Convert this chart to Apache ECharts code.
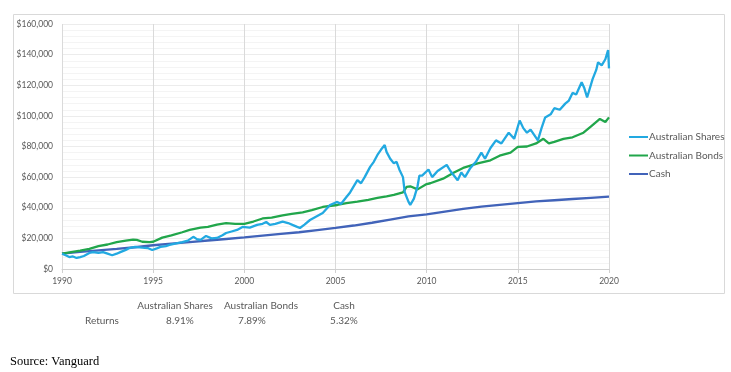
<!DOCTYPE html>
<html>
<head>
<meta charset="utf-8">
<script src="https://cdn.jsdelivr.net/npm/echarts@6/dist/echarts.min.js"></script>
<style>
html,body{margin:0;padding:0;background:#fff;}
#c{width:731px;height:372px;}
</style>
</head>
<body>
<div id="c"></div>
<script>
// ---- Data (values in thousands of dollars) ----
const seriesNames = ['Australian Shares', 'Australian Bonds', 'Cash'];
const yTicks = [0, 20000, 40000, 60000, 80000, 100000, 120000, 140000, 160000];
const xTicks = [1990, 1995, 2000, 2005, 2010, 2015, 2020];

const sharesYears = [1990.0,1990.2,1990.4,1990.6,1990.8,1991.0,1991.2,1991.5,1991.7,1992.0,1992.25,1992.5,1992.75,1993.0,1993.2,1993.5,1993.7,1994.0,1994.1,1994.4,1994.7,1994.95,1995.2,1995.4,1995.7,1995.9,1996.2,1996.6,1996.9,1997.2,1997.4,1997.6,1997.9,1998.2,1998.5,1998.8,1999.0,1999.3,1999.6,1999.9,2000.0,2000.3,2000.7,2001.0,2001.2,2001.4,2001.7,2002.1,2002.4,2002.7,2002.9,2003.05,2003.3,2003.6,2003.9,2004.3,2004.7,2005.1,2005.3,2005.6,2005.8,2006.2,2006.4,2006.6,2006.9,2007.1,2007.3,2007.5,2007.7,2007.8,2008.0,2008.2,2008.35,2008.5,2008.7,2008.8,2009.0,2009.1,2009.3,2009.5,2009.6,2009.75,2010.1,2010.3,2010.6,2011.1,2011.3,2011.7,2011.9,2012.1,2012.4,2012.7,2013.0,2013.2,2013.5,2013.8,2014.1,2014.5,2014.8,2015.1,2015.3,2015.5,2015.7,2016.1,2016.3,2016.5,2016.8,2017.0,2017.3,2017.6,2017.8,2018.0,2018.2,2018.5,2018.65,2018.8,2019.1,2019.3,2019.4,2019.6,2019.8,2019.95,2020.0];
const sharesValues = [10,9,7.8,8.2,7.2,7.8,8.5,10.5,11,10.5,11,10,9,10,11,12.5,13.7,14.5,15,14,13.7,12.4,13.5,14.4,15,15.7,16.5,17.6,18.5,21,19.5,19,21.6,20,20.3,22,23.5,24.5,25.5,27.5,27.5,27,28.8,29.5,30.7,28.8,29.5,31,30,28.5,27.5,26.8,29,32,34,36.6,41.8,43.8,42.5,47,50,58,56,60,66.7,70,74.5,78,81,76.5,72,69,70,65,60,50,44,41.8,46,54,61,61,65,60,64,68,64,58,63,60,66,70,76,72,79,84,82,89,85,97,92,89,91,84,92,99,101,105,104,108,110,115,114,122,118,112,124,130,135,133,137,143,131];

const bondsYears = [1990.0,1990.5,1991.0,1991.5,1992.0,1992.5,1993.0,1993.5,1993.9,1994.1,1994.4,1994.8,1995.0,1995.5,1996.0,1996.6,1997.0,1997.6,1998.0,1998.5,1999.0,1999.5,2000.0,2000.5,2001.0,2001.5,2002.1,2002.6,2003.2,2003.7,2004.3,2005.1,2005.6,2006.2,2006.8,2007.3,2007.8,2008.2,2008.7,2008.9,2009.1,2009.5,2010.0,2010.2,2010.9,2011.5,2012.0,2012.8,2013.5,2014.0,2014.6,2015.0,2015.5,2016.0,2016.4,2016.7,2017.0,2017.5,2018.0,2018.6,2019.0,2019.5,2019.8,2020.0];
const bondsValues = [10,11,12,13.2,15,16,17.5,18.5,19.2,19,17.8,17.5,17.8,20.5,22,24,25.5,27,27.5,29,30,29.5,29.5,31,33,33.5,35,36,37,38.5,40.5,41.8,43,44,45.2,46.4,47.5,48.4,50,53.6,54,52,55.5,56,59,63,66,69,71,74,76,79.7,80,82,85,82,83,85,86,89,93,98,96,99];

const cashYears = [1990,1991,1992,1993,1994,1995,1996,1997,1998,1999,2000,2001,2002,2003,2004,2005,2006,2007,2008,2009,2010,2011,2012,2013,2014,2015,2016,2017,2018,2019,2020];
const cashValues = [10.0,11.2,12.2,13.1,14.2,15.5,16.6,17.6,18.6,19.6,20.6,21.8,22.9,24.0,25.4,26.8,28.4,30.2,32.3,34.3,35.7,37.5,39.3,40.7,41.9,43.0,44.1,44.9,45.7,46.5,47.2];

const returnLabel = 'Returns';
const returnValues = ['8.91%', '7.89%', '5.32%'];
const sourceText = 'Source: Vanguard';

const colors = ['#22a9e1', '#21a64b', '#4163b9'];

function pairs(xs, vs) { return xs.map((x, i) => [x, vs[i] * 1000]); }

const chart = echarts.init(document.getElementById('c'), null, {renderer: 'canvas'});
const font = 'Lato, "Open Sans", "Liberation Sans", sans-serif';
const grey = '#595959';

const tableCenters = [175, 261, 344];
const graphics = [
  {type: 'rect', shape: {x: 13.5, y: 14.5, width: 711, height: 279}, style: {fill: 'none', stroke: '#d9d9d9', lineWidth: 1}, silent: true, z: -1},
  {type: 'text', left: 85, top: 316, style: {text: returnLabel, font: '10px ' + font, fill: grey}},
  {type: 'text', left: 10, top: 355, style: {text: sourceText, font: '12.5px "Liberation Serif", "Times New Roman", serif', fill: '#000'}}
];
seriesNames.forEach((n, i) => {
  graphics.push({type: 'text', x: tableCenters[i], y: 301, style: {text: n, font: '10px ' + font, fill: grey, align: 'center'}});
  graphics.push({type: 'text', x: tableCenters[i] + (i === 0 ? 5 : (i === 1 ? -9 : 0)), y: 316, style: {text: returnValues[i], font: '10px ' + font, fill: grey, align: 'center'}});
});

chart.setOption({
  animation: false,
  color: colors,
  grid: {left: 62, right: 122, top: 24, bottom: 103, containLabel: false},
  legend: {
    orient: 'vertical', left: 624, top: 127, itemGap: 8.5,
    itemWidth: 19, itemHeight: 2, icon: 'rect',
    textStyle: {fontFamily: font, fontSize: 10, color: grey, padding: [0,0,0,-4]},
    data: seriesNames
  },
  xAxis: {
    type: 'value', min: xTicks[0], max: xTicks[xTicks.length - 1], interval: 5,
    axisLine: {show: true, onZero: false, lineStyle: {color: '#d0d0d0'}},
    axisTick: {show: true, length: 4, lineStyle: {color: '#d0d0d0'}},
    axisLabel: {formatter: v => String(v), fontFamily: font, fontSize: 8.5, color: grey, margin: 8},
    splitLine: {show: true, lineStyle: {color: '#dadada', width: 1}}
  },
  yAxis: {
    type: 'value', min: yTicks[0], max: yTicks[yTicks.length - 1], interval: 20000,
    axisLine: {show: false}, axisTick: {show: false},
    axisLabel: {formatter: v => '$' + v.toLocaleString('en-US'), fontFamily: font, fontSize: 8.5, color: grey, margin: 9},
    splitLine: {show: true, lineStyle: {color: '#ececec', width: 1}},
    minorTick: {show: false, splitNumber: 5},
    minorSplitLine: {show: true, lineStyle: {color: '#f4f4f4', width: 1}}
  },
  series: [
    {name: seriesNames[0], type: 'line', data: pairs(sharesYears, sharesValues), symbol: 'none', lineStyle: {width: 2.3}, z: 3},
    {name: seriesNames[1], type: 'line', data: pairs(bondsYears, bondsValues), symbol: 'none', lineStyle: {width: 2.3}, z: 2},
    {name: seriesNames[2], type: 'line', data: pairs(cashYears, cashValues), symbol: 'none', lineStyle: {width: 2.3}, z: 1}
  ],
  graphic: graphics
});
</script>
</body>
</html>
